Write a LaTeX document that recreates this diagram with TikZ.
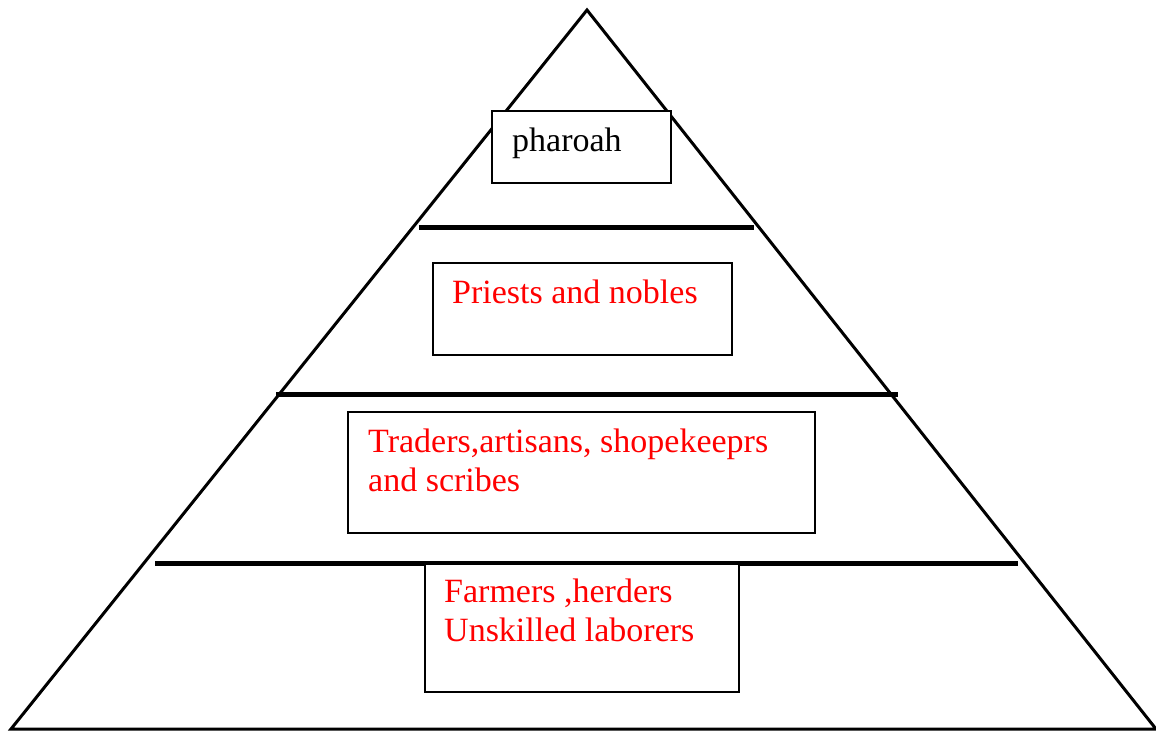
\documentclass[tikz,border=0pt]{standalone}
\usepackage{fontspec}
\setmainfont{Liberation Serif}
\definecolor{lblred}{RGB}{255,0,0}
\begin{document}
\begin{tikzpicture}[x=1pt,y=-1pt,
  tier/.style={line width=5pt, line cap=butt},
  pyr/.style={line width=3pt, line join=miter},
  tierbox/.style={draw=black, line width=1.8pt, fill=white, rectangle, inner sep=0pt, anchor=north west},
  lbl/.style={anchor=base west, inner sep=0pt, align=left, font=\fontsize{34}{39}\selectfont},
]
\useasboundingbox (0,0) rectangle (1156,732);
% pyramid
\coordinate (apex) at (587,10);
\coordinate (bl) at (11,729);
\coordinate (br) at (1156,729);
\draw[pyr] (apex) -- (bl) -- (br) -- cycle;
% tier lines
\coordinate (l1a) at (419,227); \coordinate (l1b) at (754,227);
\coordinate (l2a) at (276,394); \coordinate (l2b) at (898,394);
\coordinate (l3a) at (155,563); \coordinate (l3b) at (1018,563);
\draw[tier] (l1a) -- (l1b);
\draw[tier] (l2a) -- (l2b);
\draw[tier] (l3a) -- (l3b);
% boxes
\node[tierbox, minimum width=179pt, minimum height=72pt] (b1) at (491,110) {};
\node[tierbox, minimum width=299pt, minimum height=92pt] (b2) at (432,262) {};
\node[tierbox, minimum width=467pt, minimum height=121pt] (b3) at (347,411) {};
\node[tierbox, minimum width=314pt, minimum height=128pt] (b4) at (424,563) {};
% labels
\node[lbl, text=black] (t1) at (512,151) {pharoah};
\node[lbl, text=lblred] (t2) at (452,303) {Priests and nobles};
\node[lbl, text=lblred] (t3) at (368,491) {Traders,artisans, shopekeeprs\\and scribes};
\node[lbl, text=lblred] (t4) at (444,641) {Farmers ,herders\\Unskilled laborers};
\end{tikzpicture}
\end{document}
